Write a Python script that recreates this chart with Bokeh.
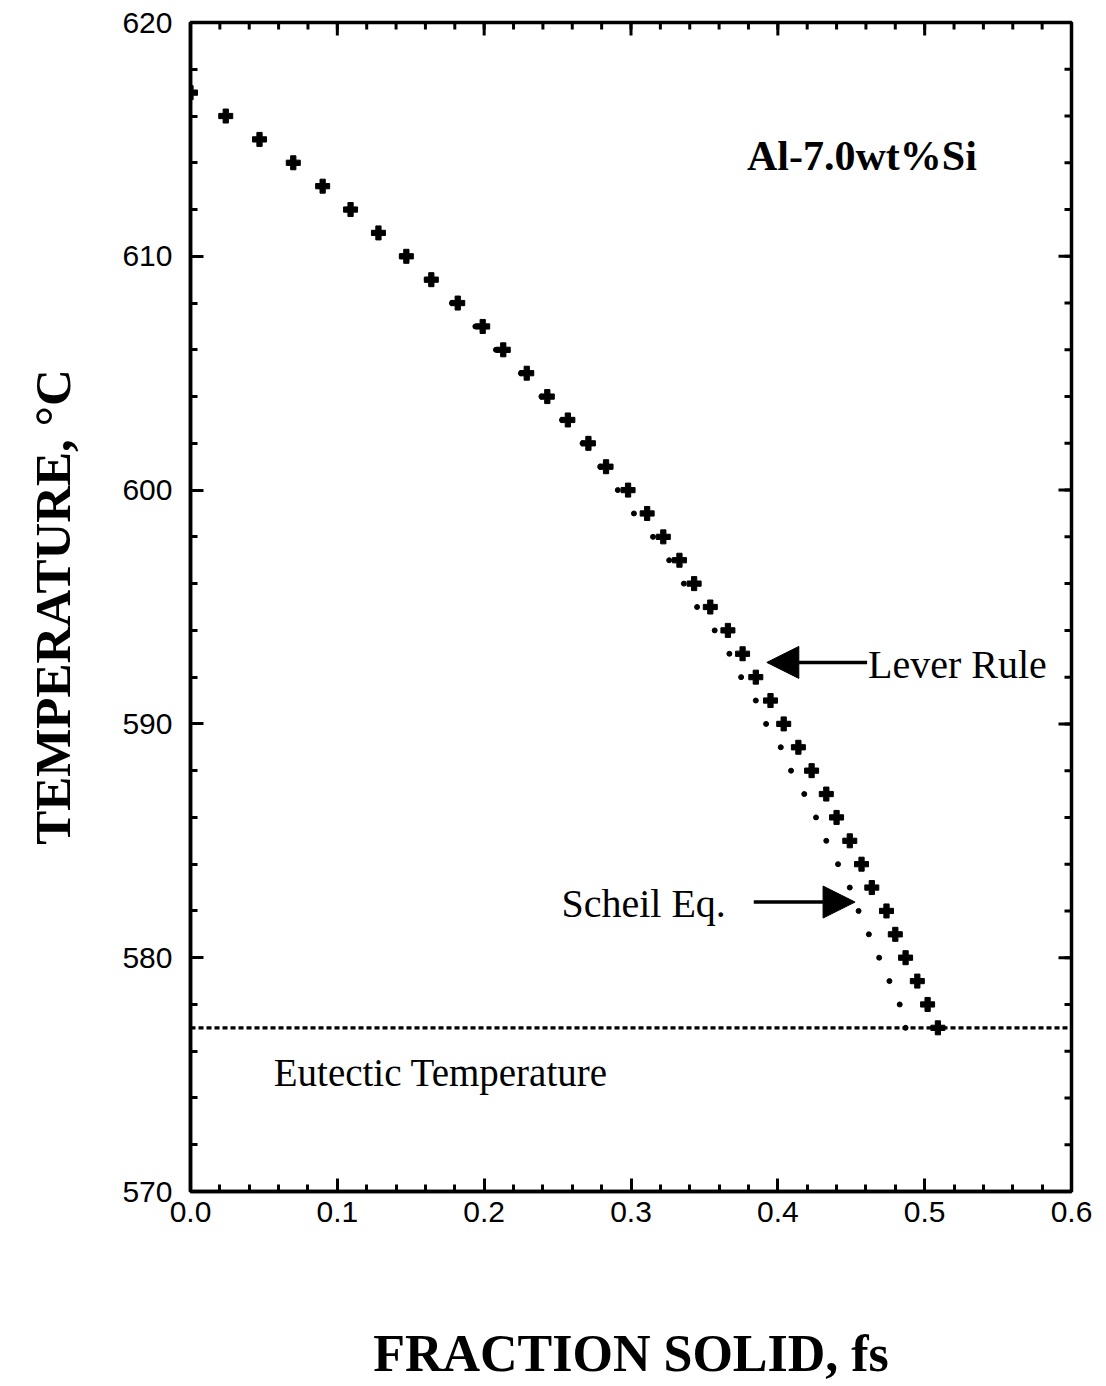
import numpy as np
from bokeh.plotting import figure
from bokeh.models import Range1d, FixedTicker, Arrow, NormalHead, Label
from bokeh.embed import file_html
from bokeh.resources import INLINE

# ---- data ----
temperature = [617, 616, 615, 614, 613, 612, 611, 610, 609, 608, 607, 606, 605,
               604, 603, 602, 601, 600, 599, 598, 597, 596, 595, 594, 593, 592,
               591, 590, 589, 588, 587, 586, 585, 584, 583, 582, 581, 580, 579,
               578, 577]
fs_lever = [0.000, 0.024, 0.047, 0.070, 0.090, 0.109, 0.128, 0.147, 0.164,
            0.182, 0.199, 0.213, 0.229, 0.243, 0.257, 0.271, 0.283, 0.298,
            0.311, 0.322, 0.333, 0.343, 0.354, 0.366, 0.376, 0.385, 0.395,
            0.404, 0.414, 0.423, 0.433, 0.440, 0.449, 0.457, 0.464, 0.474,
            0.480, 0.487, 0.495, 0.502, 0.509]
fs_scheil = [0.000, 0.023, 0.046, 0.068, 0.088, 0.107, 0.126, 0.144, 0.161,
             0.178, 0.194, 0.208, 0.225, 0.239, 0.253, 0.267, 0.279, 0.291,
             0.302, 0.315, 0.326, 0.336, 0.345, 0.357, 0.367, 0.375, 0.385,
             0.392, 0.402, 0.409, 0.418, 0.426, 0.433, 0.441, 0.449, 0.455,
             0.462, 0.469, 0.476, 0.483, 0.487]
eutectic_T = 577
x_ticks = [0.0, 0.1, 0.2, 0.3, 0.4, 0.5, 0.6]
x_tick_labels = ["0.0", "0.1", "0.2", "0.3", "0.4", "0.5", "0.6"]
y_ticks = [570, 580, 590, 600, 610, 620]
y_tick_labels = ["570", "580", "590", "600", "610", "620"]

SERIF = "Liberation Serif"
SANS = "Liberation Sans"

FRAME_W, FRAME_H = 881, 1171
X0, X1, Y0, Y1 = 0.0, 0.6, 570, 620

p = figure(width=1098, height=1384, output_backend="svg", toolbar_location=None,
           x_range=Range1d(X0, X1), y_range=Range1d(Y0, Y1),
           min_border_left=190, min_border_right=27, min_border_top=22,
           min_border_bottom=191)
p.grid.visible = False
p.outline_line_color = "black"
p.outline_line_width = 3.5
p.background_fill_color = "white"
p.border_fill_color = "white"

x_minor = [round(v, 3) for v in np.arange(X0, X1 + 1e-6, 0.02)]
y_minor = [float(v) for v in np.arange(Y0, Y1 + 0.01, 2)]


def style_axis(ax, ticker, overrides):
    ax.ticker = ticker
    ax.axis_line_color = "black"
    ax.axis_line_width = 3.5
    ax.major_tick_in = 13
    ax.major_tick_out = 0
    ax.minor_tick_in = 7
    ax.minor_tick_out = 0
    ax.major_tick_line_width = 3
    ax.minor_tick_line_width = 3
    ax.major_tick_line_color = "black"
    ax.minor_tick_line_color = "black"
    ax.major_label_overrides = overrides
    ax.major_label_text_font = SANS
    ax.major_label_text_color = "black"
    ax.major_label_text_font_size = "30px"


xa = p.xaxis[0]
style_axis(xa, FixedTicker(ticks=x_ticks, minor_ticks=x_minor),
           {t: l for t, l in zip(x_ticks, x_tick_labels)})
xa.major_label_standoff = 10
xa.axis_label = "FRACTION SOLID, fs"
xa.axis_label_text_font = SERIF
xa.axis_label_text_font_style = "bold"
xa.axis_label_text_font_size = "52px"
xa.axis_label_text_color = "black"
xa.axis_label_standoff = 100

ya = p.yaxis[0]
style_axis(ya, FixedTicker(ticks=y_ticks, minor_ticks=y_minor),
           {t: l for t, l in zip(y_ticks, y_tick_labels)})
ya.major_label_standoff = 18
ya.axis_label = "TEMPERATURE, °C"
ya.axis_label_text_font = SERIF
ya.axis_label_text_font_style = "bold"
ya.axis_label_text_font_size = "51px"
ya.axis_label_text_color = "black"
ya.axis_label_standoff = 38

# inward ticks on the top and right frame edges
dy_major = 13 * (Y1 - Y0) / FRAME_H
dy_minor = 7 * (Y1 - Y0) / FRAME_H
dx_major = 13 * (X1 - X0) / FRAME_W
dx_minor = 7 * (X1 - X0) / FRAME_W
p.segment(x0=x_ticks, y0=[Y1] * len(x_ticks), x1=x_ticks,
          y1=[Y1 - dy_major] * len(x_ticks), line_color="black", line_width=3)
p.segment(x0=x_minor, y0=[Y1] * len(x_minor), x1=x_minor,
          y1=[Y1 - dy_minor] * len(x_minor), line_color="black", line_width=3)
p.segment(x0=[X1] * len(y_ticks), y0=y_ticks, x1=[X1 - dx_major] * len(y_ticks),
          y1=y_ticks, line_color="black", line_width=3)
p.segment(x0=[X1] * len(y_minor), y0=y_minor, x1=[X1 - dx_minor] * len(y_minor),
          y1=y_minor, line_color="black", line_width=3)

# eutectic line
p.line(x=[X0, X1], y=[eutectic_T, eutectic_T],
       line_color="black", line_width=3.2, line_dash="5 3")

# series
p.scatter(x=fs_scheil, y=temperature, marker="circle", size=5,
          fill_color="black", line_color="black")
p.scatter(x=fs_lever, y=temperature, marker="plus", size=14,
          fill_color="black", line_color="black", line_width=1)

# annotations
p.add_layout(Label(x=0.379, y=614.3, text="Al-7.0wt%Si", text_font=SERIF,
                   text_font_style="bold", text_font_size="42px",
                   text_baseline="middle", text_color="black"))
p.add_layout(Label(x=0.4614, y=592.55, text="Lever Rule", text_font=SERIF,
                   text_font_size="40px", text_baseline="middle",
                   text_color="black"))
p.add_layout(Label(x=0.2526, y=582.3, text="Scheil Eq.", text_font=SERIF,
                   text_font_size="40px", text_baseline="middle",
                   text_color="black"))
p.add_layout(Label(x=0.0567, y=575.1, text="Eutectic Temperature",
                   text_font=SERIF, text_font_size="39px",
                   text_baseline="middle", text_color="black"))

p.add_layout(Arrow(x_start=0.4608, y_start=592.63, x_end=0.3925, y_end=592.63,
                   line_width=3.5, line_color="black",
                   end=NormalHead(size=32, fill_color="black",
                                  line_color="black")))
p.add_layout(Arrow(x_start=0.3836, y_start=582.38, x_end=0.4526, y_end=582.38,
                   line_width=3.5, line_color="black",
                   end=NormalHead(size=32, fill_color="black",
                                  line_color="black")))

open("out.html", "w").write(file_html(p, INLINE))
